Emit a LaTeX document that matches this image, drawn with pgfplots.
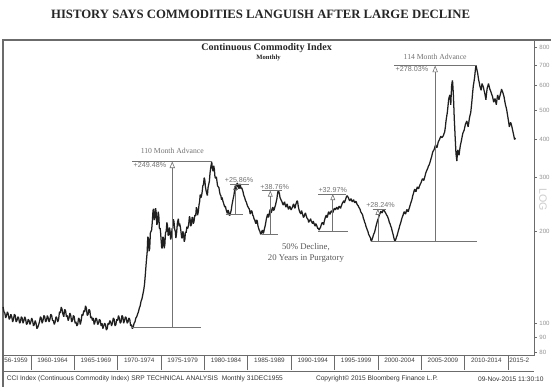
\documentclass[border=0pt]{standalone}
\usepackage{fontspec}
\setmainfont{Liberation Serif}
\setsansfont{Liberation Sans}
\usepackage{pgfplots}
\usepackage{pgfplotstable}
\pgfplotsset{compat=1.18}
\usetikzlibrary{arrows.meta}

\pgfplotstableread{
year val
1956.0 117
1956.1 113
1956.2 112
1956.3 116
1956.4 114
1956.5 109
1956.6 110
1956.7 114
1956.8 113
1956.9 109
1957.0 108
1957.1 104
1957.2 106
1957.3 109
1957.4 107
1957.5 103
1957.6 104
1957.7 107
1957.8 105
1957.9 101
1958.0 103
1958.1 107
1958.2 106
1958.3 101
1958.4 102
1958.5 105
1958.6 104
1958.7 100
1958.8 101
1958.9 105
1959.0 104
1959.1 100
1959.2 102
1959.3 105
1959.4 103
1959.5 99
1959.6 100
1959.7 103
1959.8 102
1959.9 99
1960.0 101
1960.1 104
1960.2 102
1960.3 98
1960.4 99
1960.5 102
1960.6 100
1960.7 96
1960.8 97
1960.9 99
1961.0 101
1961.1 105
1961.2 104
1961.3 100
1961.4 102
1961.5 106
1961.6 105
1961.7 101
1961.8 102
1961.9 106
1962.0 104
1962.1 101
1962.2 103
1962.3 107
1962.4 106
1962.5 102
1962.6 102
1962.7 99
1962.8 101
1962.9 105
1963.0 104
1963.1 101
1963.2 103
1963.3 109
1963.4 108
1963.5 113
1963.6 111
1963.7 107
1963.8 105
1963.9 111
1964.0 110
1964.1 105
1964.2 106
1964.3 102
1964.4 104
1964.5 108
1964.6 106
1964.7 101
1964.8 102
1964.9 106
1965.0 105
1965.1 100
1965.2 101
1965.3 98
1965.4 99
1965.5 104
1965.6 103
1965.7 99
1965.8 102
1965.9 107
1966.0 106
1966.1 110
1966.2 109
1966.3 114
1966.4 112
1966.5 106
1966.6 107
1966.7 111
1966.8 110
1966.9 104
1967.0 105
1967.1 102
1967.2 104
1967.3 99
1967.4 101
1967.5 104
1967.6 103
1967.7 99
1967.8 100
1967.9 103
1968.0 102
1968.1 98
1968.2 100
1968.3 96
1968.4 98
1968.5 100
1968.6 99
1968.7 95
1968.8 96
1968.9 100
1969.0 99
1969.1 102
1969.2 101
1969.3 98
1969.4 100
1969.5 104
1969.6 103
1969.7 98
1969.8 99
1969.9 103
1970.0 102
1970.1 106
1970.2 104
1970.3 100
1970.4 101
1970.5 106
1970.6 105
1970.7 100
1970.8 102
1970.9 105
1971.0 104
1971.1 100
1971.2 101
1971.3 104
1971.4 103
1971.5 98
1971.6 99
1971.7 96
1971.8 97
1971.9 100
1972.0 101
1972.1 104
1972.2 105
1972.3 107
1972.4 109
1972.5 112
1972.6 114
1972.7 118
1972.8 120
1972.9 124
1973.0 128
1973.1 134
1973.2 145
1973.3 158
1973.4 170
1973.48 192
1973.55 190
1973.62 172
1973.7 176
1973.78 198
1973.85 200
1973.92 202
1974.0 215
1974.08 234
1974.15 237
1974.22 218
1974.3 222
1974.38 238
1974.45 230
1974.52 210
1974.6 214
1974.68 232
1974.75 225
1974.82 204
1974.9 205
1974.95 199
1975.0 190
1975.08 177
1975.15 176
1975.22 192
1975.3 190
1975.38 176
1975.45 182
1975.52 198
1975.6 200
1975.68 214
1975.75 209
1975.82 194
1975.9 195
1975.98 206
1976.05 200
1976.12 188
1976.2 193
1976.28 204
1976.35 205
1976.42 219
1976.5 215
1976.58 203
1976.65 200
1976.72 190
1976.8 198
1976.9 214
1977.0 220
1977.08 208
1977.15 212
1977.22 208
1977.3 200
1977.38 191
1977.45 190
1977.52 200
1977.6 196
1977.68 185
1977.75 188
1977.82 199
1977.9 198
1977.98 207
1978.05 204
1978.12 206
1978.2 212
1978.28 224
1978.35 220
1978.42 208
1978.5 210
1978.58 222
1978.65 222
1978.72 212
1978.8 215
1978.9 226
1979.0 225
1979.08 240
1979.15 235
1979.22 226
1979.3 232
1979.38 244
1979.45 250
1979.52 264
1979.6 258
1979.68 262
1979.75 270
1979.82 282
1979.9 285
1979.98 300
1980.05 295
1980.12 280
1980.2 272
1980.28 266
1980.35 262
1980.42 278
1980.5 285
1980.58 292
1980.65 310
1980.75 326
1980.85 338
1980.92 322
1981.0 315
1981.08 328
1981.15 320
1981.22 302
1981.3 298
1981.38 302
1981.45 292
1981.52 282
1981.6 280
1981.68 278
1981.75 270
1981.82 264
1981.9 262
1981.98 254
1982.05 258
1982.12 252
1982.2 248
1982.28 244
1982.35 240
1982.42 242
1982.5 236
1982.58 232
1982.65 229
1982.72 235
1982.8 232
1982.88 226
1982.95 226
1983.02 230
1983.1 235
1983.18 244
1983.25 250
1983.32 256
1983.4 262
1983.48 272
1983.55 282
1983.62 272
1983.7 278
1983.78 288
1983.85 286
1983.92 280
1984.0 276
1984.08 286
1984.15 284
1984.22 276
1984.3 278
1984.38 274
1984.45 270
1984.52 264
1984.6 260
1984.68 256
1984.75 252
1984.82 250
1984.9 246
1984.98 242
1985.05 240
1985.12 238
1985.2 236
1985.28 228
1985.35 230
1985.42 234
1985.5 232
1985.58 226
1985.65 224
1985.72 220
1985.8 218
1985.88 214
1985.95 212
1986.02 218
1986.1 216
1986.18 208
1986.25 205
1986.32 202
1986.4 200
1986.48 196
1986.55 196
1986.62 200
1986.7 202
1986.78 197
1986.85 199
1986.92 204
1987.0 208
1987.08 214
1987.15 220
1987.22 224
1987.3 228
1987.38 222
1987.45 225
1987.52 232
1987.6 236
1987.68 230
1987.75 232
1987.82 238
1987.9 240
1987.98 234
1988.05 236
1988.12 240
1988.2 244
1988.28 250
1988.35 255
1988.42 264
1988.5 272
1988.58 270
1988.65 266
1988.72 258
1988.8 255
1988.88 252
1988.95 250
1989.02 246
1989.1 244
1989.18 248
1989.25 250
1989.32 244
1989.4 240
1989.48 244
1989.55 246
1989.62 240
1989.7 236
1989.78 240
1989.85 242
1989.92 238
1990.0 235
1990.08 238
1990.15 240
1990.22 244
1990.3 246
1990.38 240
1990.45 238
1990.52 244
1990.6 248
1990.68 252
1990.75 250
1990.82 242
1990.9 236
1990.98 232
1991.05 230
1991.12 228
1991.2 234
1991.28 230
1991.35 226
1991.42 222
1991.5 224
1991.58 228
1991.65 230
1991.72 226
1991.8 222
1991.88 220
1991.95 219
1992.02 214
1992.1 216
1992.18 218
1992.25 220
1992.32 216
1992.4 214
1992.48 212
1992.55 216
1992.62 213
1992.7 210
1992.78 208
1992.85 212
1992.92 210
1993.0 207
1993.08 204
1993.15 205
1993.22 202
1993.3 204
1993.38 206
1993.45 209
1993.52 212
1993.6 214
1993.68 212
1993.75 210
1993.82 216
1993.9 220
1993.98 224
1994.05 226
1994.12 222
1994.2 224
1994.28 230
1994.35 232
1994.42 228
1994.5 228
1994.58 232
1994.65 234
1994.72 232
1994.8 230
1994.88 234
1994.95 237
1995.02 238
1995.1 235
1995.18 238
1995.25 240
1995.32 238
1995.4 236
1995.48 240
1995.55 242
1995.62 240
1995.7 238
1995.78 242
1995.85 245
1995.92 248
1996.0 250
1996.08 252
1996.15 248
1996.22 252
1996.3 256
1996.38 260
1996.45 262
1996.52 260
1996.6 258
1996.68 254
1996.75 252
1996.82 254
1996.9 256
1996.98 252
1997.05 250
1997.12 252
1997.2 254
1997.28 250
1997.35 248
1997.42 251
1997.5 250
1997.58 246
1997.65 244
1997.72 243
1997.8 240
1997.88 238
1997.95 236
1998.02 232
1998.1 230
1998.18 228
1998.25 226
1998.32 221
1998.4 218
1998.48 214
1998.55 212
1998.62 208
1998.7 205
1998.78 202
1998.85 200
1998.92 196
1999.0 194
1999.08 192
1999.15 190
1999.22 186
1999.3 187
1999.38 190
1999.45 193
1999.52 196
1999.6 198
1999.68 202
1999.75 206
1999.82 210
1999.9 214
1999.98 218
2000.05 220
2000.12 224
2000.2 228
2000.28 230
2000.35 233
2000.42 231
2000.5 230
2000.58 234
2000.65 236
2000.72 234
2000.8 232
2000.88 230
2000.95 228
2001.02 226
2001.1 224
2001.18 221
2001.25 218
2001.32 214
2001.4 212
2001.48 208
2001.55 206
2001.62 202
2001.7 198
2001.78 194
2001.85 190
2001.92 187
2002.0 186
2002.08 189
2002.15 192
2002.22 194
2002.3 198
2002.38 202
2002.45 205
2002.52 209
2002.6 212
2002.68 216
2002.75 220
2002.82 223
2002.9 226
2002.98 230
2003.05 232
2003.12 229
2003.2 228
2003.28 233
2003.35 236
2003.42 233
2003.5 232
2003.58 237
2003.65 240
2003.72 244
2003.8 248
2003.88 252
2003.95 256
2004.02 262
2004.1 266
2004.18 272
2004.25 275
2004.32 271
2004.4 270
2004.48 276
2004.55 280
2004.62 277
2004.7 276
2004.78 281
2004.85 284
2004.92 287
2005.0 290
2005.08 295
2005.15 298
2005.22 295
2005.3 294
2005.38 300
2005.45 305
2005.52 311
2005.6 315
2005.68 319
2005.75 322
2005.82 327
2005.9 330
2005.98 335
2006.05 340
2006.12 346
2006.2 352
2006.28 360
2006.35 366
2006.42 368
2006.5 372
2006.58 379
2006.65 384
2006.72 379
2006.8 376
2006.88 384
2006.95 392
2007.02 396
2007.1 400
2007.18 405
2007.25 410
2007.32 407
2007.4 406
2007.48 409
2007.55 412
2007.62 418
2007.7 424
2007.78 440
2007.85 460
2007.92 474
2008.0 490
2008.08 515
2008.15 540
2008.22 552
2008.3 560
2008.35 540
2008.4 520
2008.45 560
2008.5 600
2008.55 615
2008.6 625
2008.65 595
2008.7 560
2008.75 515
2008.8 470
2008.85 440
2008.9 410
2008.95 385
2009.0 360
2009.05 350
2009.1 340
2009.15 355
2009.2 370
2009.28 362
2009.35 355
2009.42 368
2009.5 382
2009.58 391
2009.65 400
2009.72 410
2009.8 420
2009.88 425
2009.95 430
2010.02 440
2010.1 450
2010.18 455
2010.25 460
2010.32 450
2010.4 440
2010.48 455
2010.55 470
2010.62 480
2010.7 490
2010.78 515
2010.85 540
2010.92 570
2011.0 600
2011.08 620
2011.15 640
2011.22 670
2011.3 700
2011.35 690
2011.4 680
2011.45 670
2011.5 660
2011.55 645
2011.6 630
2011.68 615
2011.75 600
2011.82 590
2011.9 580
2011.95 595
2012.0 610
2012.08 602
2012.15 595
2012.22 582
2012.3 570
2012.38 555
2012.45 540
2012.52 565
2012.6 590
2012.68 600
2012.75 610
2012.82 598
2012.9 585
2012.98 578
2013.05 570
2013.12 562
2013.2 555
2013.28 542
2013.35 530
2013.42 538
2013.5 545
2013.58 532
2013.65 520
2013.72 540
2013.8 560
2013.88 550
2013.95 540
2014.02 550
2014.1 560
2014.18 572
2014.25 585
2014.32 578
2014.4 570
2014.48 560
2014.55 550
2014.62 535
2014.7 520
2014.78 510
2014.85 500
2014.92 485
2015.0 470
2015.08 455
2015.15 440
2015.22 448
2015.3 455
2015.38 448
2015.45 440
2015.52 430
2015.6 420
2015.68 410
2015.75 400
2015.8 402
2015.85 405
}\ccidata

\definecolor{annot}{gray}{0.45}
\definecolor{frame}{gray}{0.42}

\begin{document}
\begin{tikzpicture}
\begin{scope}[x=0.75pt,y=-0.75pt]
\path[use as bounding box] (0,0) rectangle (554,389);
\fill[white] (0,0) rectangle (554,389);
\node[font=\fontsize{9.6}{11}\selectfont\bfseries, text=black!85] at (262,14) {HISTORY SAYS COMMODITIES LANGUISH AFTER LARGE DECLINE};
\draw[frame, line width=1.1pt] (3,389) -- (3,40) -- (554,40);
\draw[frame, line width=0.5pt] (3,373) -- (537,373);
\node[font=\fontsize{7.6}{9}\selectfont\bfseries, text=black!85] at (268,48) {Continuous Commodity Index};
\node[font=\fontsize{5.0}{6}\selectfont\bfseries, text=black!85] at (270,58) {Monthly};
\node[font=\fontsize{8}{9}\sffamily\selectfont, text=gray!40, rotate=-90] at (546,201) {LOG};
\node[anchor=west, font=\fontsize{5.0}{6}\sffamily\selectfont, text=black!80] at (2,381) {CCI Index (Continuous Commodity Index) SRP TECHNICAL ANALYSIS\ \ Monthly 31DEC1955};
\node[anchor=west, font=\fontsize{5.0}{6}\sffamily\selectfont, text=black!80] at (313,381) {Copyright\textcopyright{} 2015 Bloomberg Finance L.P.};
\node[anchor=west, font=\fontsize{5.0}{6}\sffamily\selectfont, text=black!80] at (476,381) {09-Nov-2015 11:30:10};
\end{scope}
\begin{axis}[
  at={(2.25pt,-267.75pt)}, anchor=south west,
  scale only axis, width=400.5pt, height=237.75pt,
  xmin=1956.8, xmax=2018.0, ymode=log, ymin=78.7, ymax=849,
  axis line style={frame, line width=0.6pt},
  xtick=\empty,
  minor xtick={1957,1958,...,2018},
  minor tick length=2.2pt,
  xtick pos=bottom,
  tick align=outside,
  extra x ticks={1958.3,1962.5,1967.5,1972.5,1977.5,1982.5,1987.5,1992.5,1997.5,2002.5,2007.5,2012.5,2016.3},
  extra x tick labels={56-1959,1960-1964,1965-1969,1970-1974,1975-1979,1980-1984,1985-1989,1990-1994,1995-1999,2000-2004,2005-2009,2010-2014,2015-2},
  extra x tick style={major tick length=0pt, xticklabel style={anchor=center, yshift=-3.9pt}},
  xticklabel style={font=\fontsize{4.8}{5}\sffamily\selectfont, text=black!75},
  ytick={80,90,100,200,300,400,500,600,700,800},
  yticklabels={80,90,100,200,300,400,500,600,700,800},
  minor ytick={},
  ytick pos=right, yticklabel pos=right,
  major tick length=2pt,
  tick style={frame, line width=0.5pt},
  yticklabel style={font=\fontsize{4.6}{5}\sffamily\selectfont, text=gray!85, xshift=-1.5pt},
  clip=false,
]
\addplot[black!88, line width=0.95pt, line join=bevel, restrict x to domain=1956.8:2018] table[x=year,y=val]{\ccidata};

\pgfplotsinvokeforeach{1960,1965,...,2015}{
  \draw[frame, line width=0.5pt] (axis cs:#1,78.7) -- ++(0pt,-11.5pt);
}

% 110 month advance
\draw[annot, line width=0.45pt] (axis cs:1971.7,97) -- (axis cs:1979.6,97);
\draw[annot, line width=0.45pt] (axis cs:1971.7,339) -- (axis cs:1980.85,339);
\draw[annot, line width=0.45pt, -{Triangle[open,length=5pt,width=4pt]}] (axis cs:1976.3,97) -- (axis cs:1976.3,339);
\node[font=\fontsize{5.8}{6}\selectfont, text=annot] at (axis cs:1976.3,366) {110 Month Advance};
\node[anchor=north west, inner sep=0.8pt, font=\fontsize{5.4}{6}\sffamily\selectfont, text=annot] at (axis cs:1971.7,339) {+249.48\%};

% +25.86
\draw[annot, line width=0.45pt] (axis cs:1982.45,227) -- (axis cs:1984.5,227);
\draw[annot, line width=0.45pt] (axis cs:1983.0,286) -- (axis cs:1985.1,286);
\draw[annot, line width=0.45pt, -{Triangle[open,length=4.5pt,width=3.6pt]}] (axis cs:1983.6,227) -- (axis cs:1983.6,286);
\node[anchor=south, inner sep=0.8pt, font=\fontsize{5.4}{6}\sffamily\selectfont, text=annot] at (axis cs:1984.0,286) {+25.86\%};

% +38.76
\draw[annot, line width=0.45pt] (axis cs:1986.6,196) -- (axis cs:1988.5,196);
\draw[annot, line width=0.45pt] (axis cs:1986.6,272) -- (axis cs:1989.0,272);
\draw[annot, line width=0.45pt, -{Triangle[open,length=4.5pt,width=3.6pt]}] (axis cs:1987.6,196) -- (axis cs:1987.6,272);
\node[anchor=south, inner sep=0.8pt, font=\fontsize{5.4}{6}\sffamily\selectfont, text=annot] at (axis cs:1988.1,272) {+38.76\%};

% +32.97
\draw[annot, line width=0.45pt] (axis cs:1993.1,199.5) -- (axis cs:1996.5,199.5);
\draw[annot, line width=0.45pt] (axis cs:1993.1,265) -- (axis cs:1996.3,265);
\draw[annot, line width=0.45pt, -{Triangle[open,length=4.5pt,width=3.6pt]}] (axis cs:1994.8,199.5) -- (axis cs:1994.8,265);
\node[anchor=south, inner sep=0.8pt, font=\fontsize{5.4}{6}\sffamily\selectfont, text=annot] at (axis cs:1994.8,265) {+32.97\%};

% +28.24 and 114 month
\draw[annot, line width=0.45pt] (axis cs:1999.2,185) -- (axis cs:2011.4,185);
\draw[annot, line width=0.45pt] (axis cs:1999.4,237) -- (axis cs:2000.9,237);
\draw[annot, line width=0.45pt, -{Triangle[open,length=4.5pt,width=3.6pt]}] (axis cs:2000.0,185) -- (axis cs:2000.0,237);
\node[anchor=south, inner sep=0.8pt, font=\fontsize{5.4}{6}\sffamily\selectfont, text=annot] at (axis cs:2000.3,237) {+28.24\%};

\draw[annot, line width=0.45pt] (axis cs:2001.9,699) -- (axis cs:2011.4,699);
\draw[annot, line width=0.45pt, -{Triangle[open,length=5pt,width=4pt]}] (axis cs:2006.6,185) -- (axis cs:2006.6,699);
\node[font=\fontsize{5.8}{6}\selectfont, text=annot] at (axis cs:2006.6,748) {114 Month Advance};
\node[anchor=north west, inner sep=0.8pt, font=\fontsize{5.4}{6}\sffamily\selectfont, text=annot] at (axis cs:2001.9,699) {+278.03\%};

\node[align=center, font=\fontsize{6.6}{8}\selectfont, text=black!65] at (axis cs:1991.7,170) {50\% Decline,\\20 Years in Purgatory};
\end{axis}
\end{tikzpicture}
\end{document}
